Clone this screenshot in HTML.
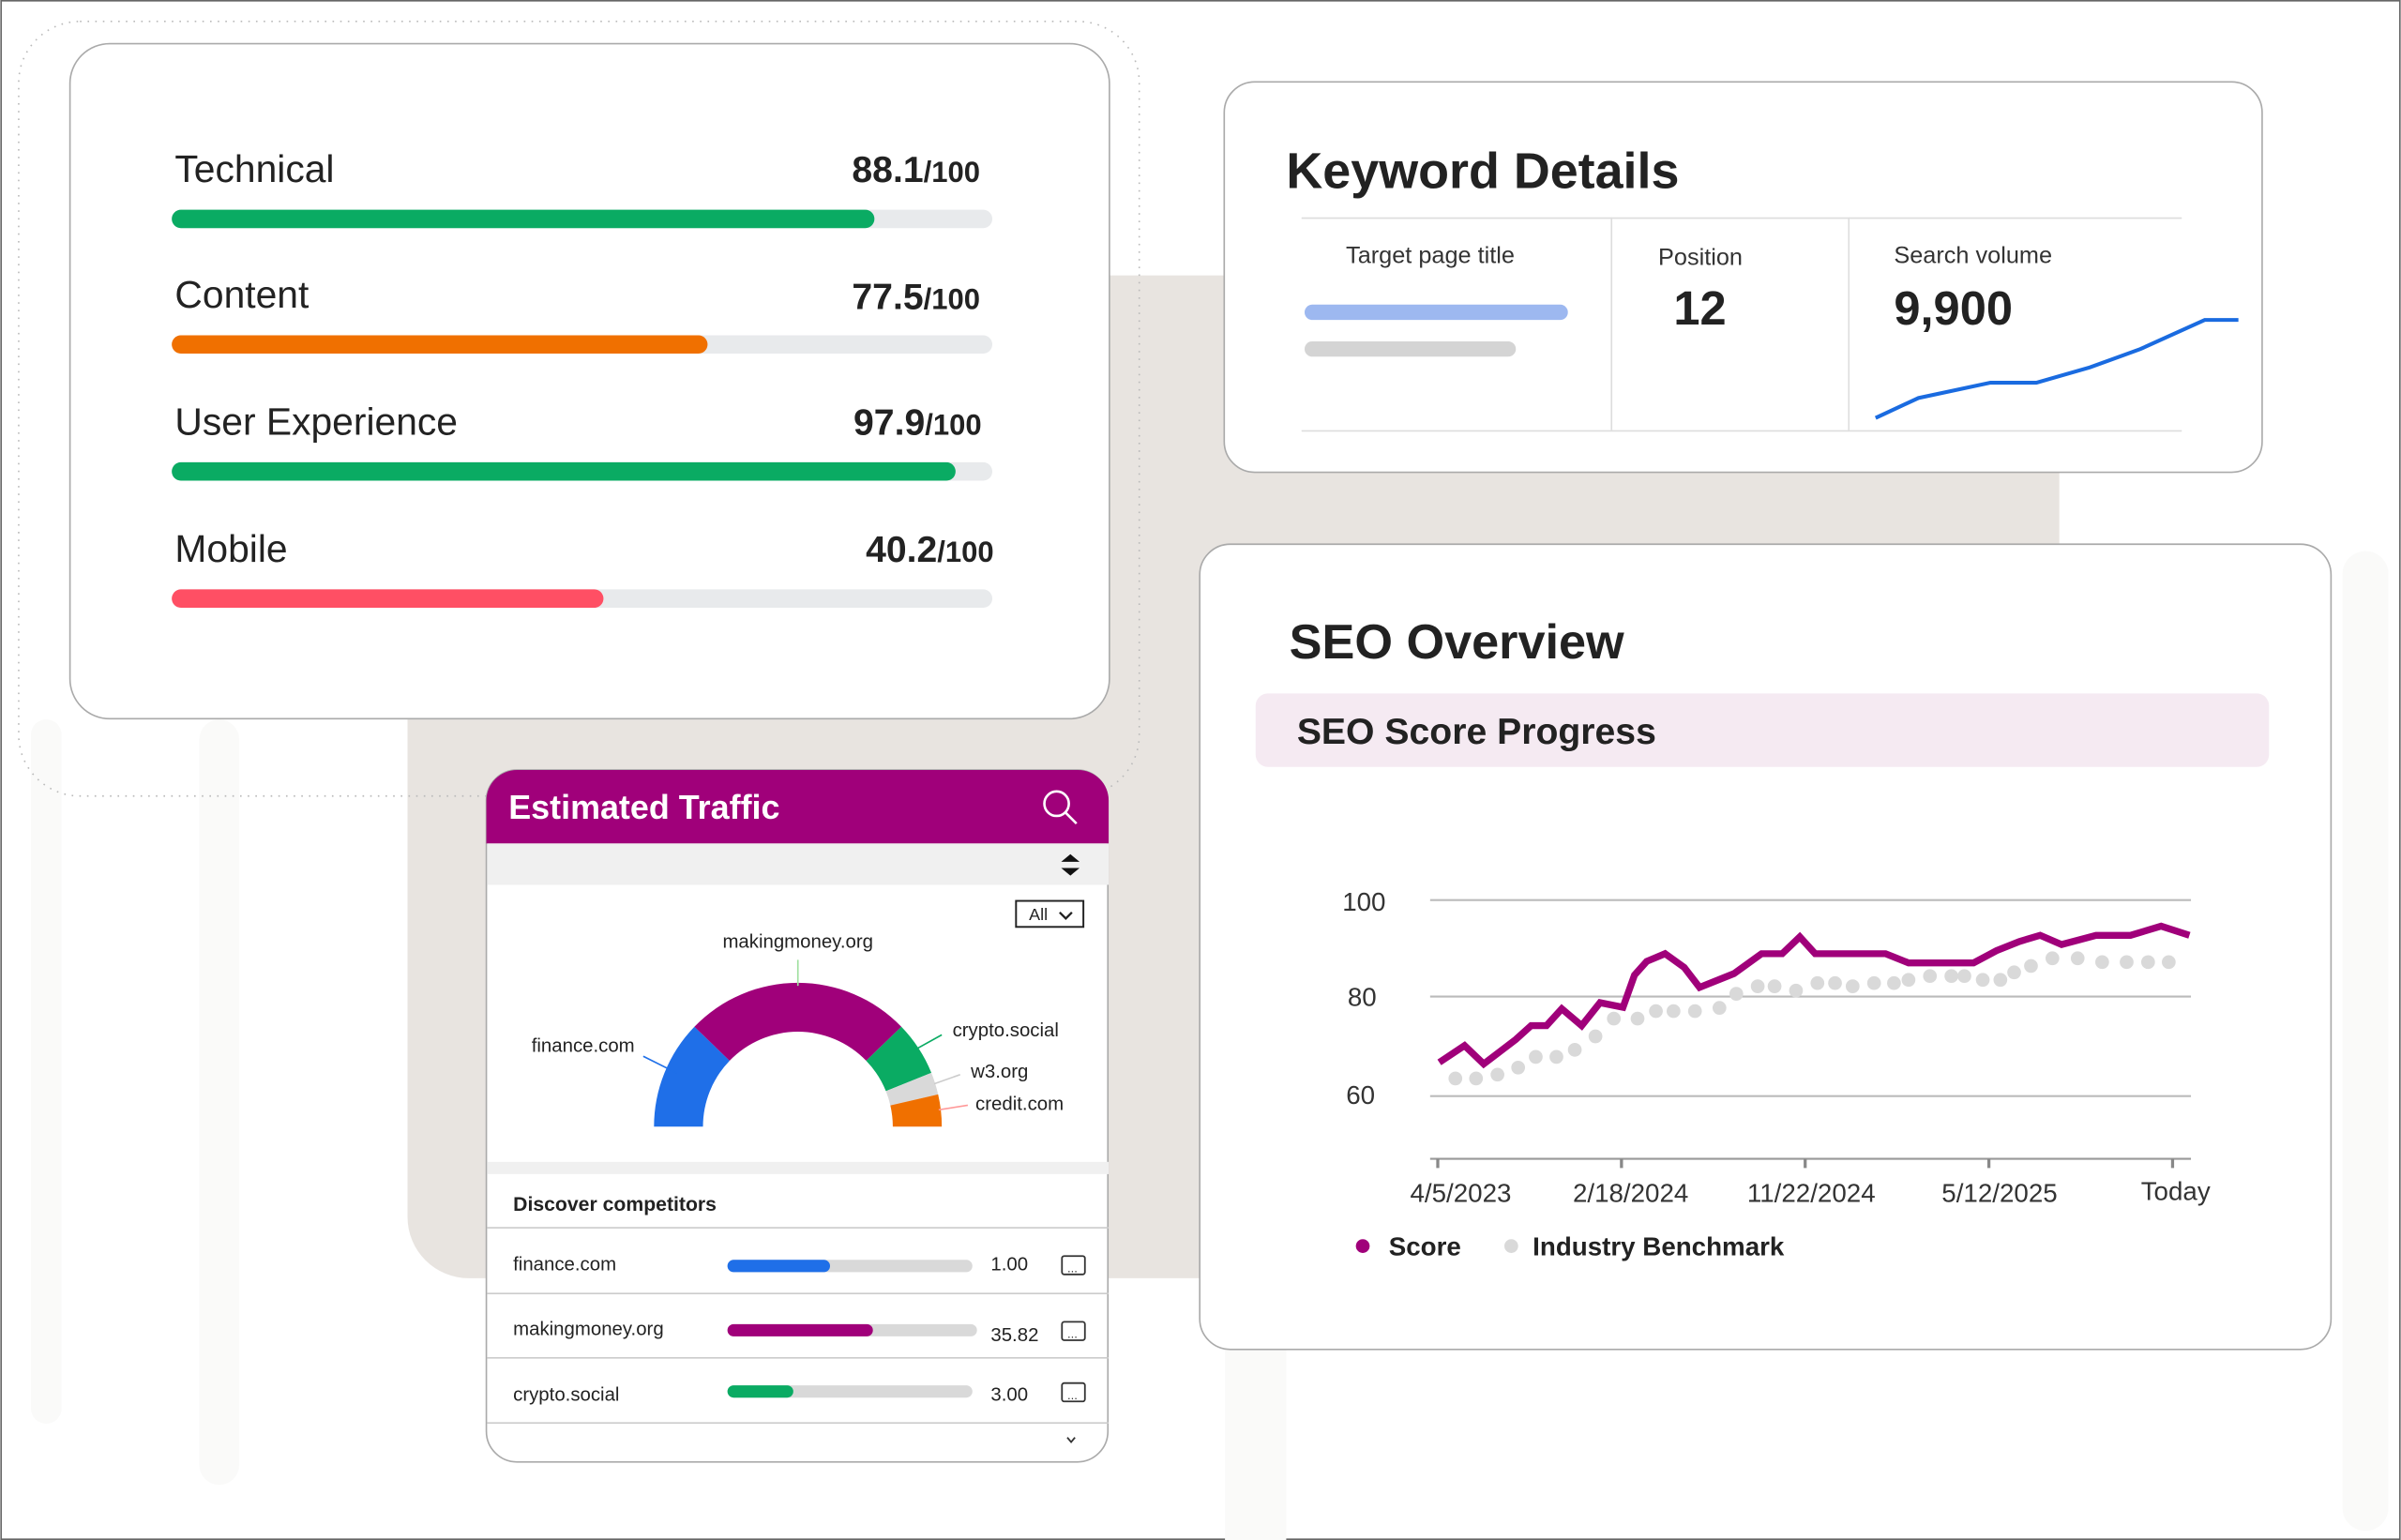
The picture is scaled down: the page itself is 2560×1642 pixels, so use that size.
<!DOCTYPE html>
<html><head><meta charset="utf-8"><style>
html,body{margin:0;padding:0;background:#fff;}
svg{display:block;font-family:"Liberation Sans",sans-serif;}
</style></head><body>
<svg width="2560" height="1642" viewBox="0 0 1568 1006" xmlns="http://www.w3.org/2000/svg">
<rect x="0" y="0" width="1568" height="1006" fill="#fff"/>
<rect x="0.5" y="0.5" width="1567" height="1005" fill="none" stroke="#666" stroke-width="1"/>
<!-- faint streaks -->
<g fill="#fafaf9">
<rect x="20" y="470" width="20" height="460" rx="10"/>
<rect x="130" y="470" width="26" height="500" rx="13"/>
<rect x="800" y="850" width="40" height="156"/>
<rect x="1530" y="360" width="30" height="640" rx="15"/>
</g>
<!-- beige backdrop -->
<rect x="266" y="180" width="1079" height="655" rx="40" fill="#e8e4e0"/>
<rect x="266" y="180" width="1079" height="40" fill="#e8e4e0"/>
<!-- dotted outline -->
<rect x="12" y="14" width="732" height="506" rx="40" fill="none" stroke="#bbb" stroke-width="1" stroke-dasharray="1 4"/>

<!-- Left score card -->
<rect x="45.5" y="28.5" width="679" height="441" rx="26" fill="#fff" stroke="#aaa"/>
<g font-size="25" fill="#222">
<text x="114" y="119">Technical</text>
<text x="114" y="201">Content</text>
<text x="114" y="284">User Experience</text>
<text x="114" y="367">Mobile</text>
</g>
<g font-weight="bold" fill="#222" text-anchor="end">
<text x="640" y="119" font-size="24">88.1<tspan font-size="19">/100</tspan></text>
<text x="640" y="202" font-size="24">77.5<tspan font-size="19">/100</tspan></text>
<text x="641" y="284" font-size="24">97.9<tspan font-size="19">/100</tspan></text>
<text x="649" y="367" font-size="24">40.2<tspan font-size="19">/100</tspan></text>
</g>
<g fill="#e8eaec">
<rect x="112" y="137" width="536" height="12" rx="6"/>
<rect x="112" y="219" width="536" height="12" rx="6"/>
<rect x="112" y="302" width="536" height="12" rx="6"/>
<rect x="112" y="385" width="536" height="12" rx="6"/>
</g>
<rect x="112" y="137" width="459" height="12" rx="6" fill="#0aab63"/>
<rect x="112" y="219" width="350" height="12" rx="6" fill="#f07000"/>
<rect x="112" y="302" width="512" height="12" rx="6" fill="#0aab63"/>
<rect x="112" y="385" width="282" height="12" rx="6" fill="#ff4f64"/>

<!-- Keyword Details card -->
<rect x="799.5" y="53.5" width="678" height="255" rx="20" fill="#fff" stroke="#aaa"/>
<text x="840" y="123" font-size="33" font-weight="bold" fill="#222">Keyword Details</text>
<line x1="850" y1="142.5" x2="1425" y2="142.5" stroke="#ddd"/>
<line x1="850" y1="281.5" x2="1425" y2="281.5" stroke="#ddd"/>
<line x1="1052.5" y1="142" x2="1052.5" y2="281" stroke="#ddd"/>
<line x1="1207.5" y1="142" x2="1207.5" y2="281" stroke="#ddd"/>
<g font-size="15.5" fill="#333">
<text x="879" y="172">Target page title</text>
<text x="1083" y="173">Position</text>
<text x="1237" y="172">Search volume</text>
</g>
<rect x="852" y="199" width="172" height="10" rx="5" fill="#9db8f0"/>
<rect x="852" y="223" width="138" height="10" rx="5" fill="#d4d4d4"/>
<text x="1093" y="212" font-size="31" font-weight="bold" fill="#222">12</text>
<text x="1237" y="212" font-size="31" font-weight="bold" fill="#222">9,900</text>
<polyline points="1225,273 1253,260 1300,250 1330,250 1365,240 1398,228 1440,209 1462,209" fill="none" stroke="#1a6be0" stroke-width="2.5"/>

<!-- SEO Overview card -->
<rect x="783.5" y="355.5" width="739" height="526" rx="20" fill="#fff" stroke="#aaa"/>
<text x="842" y="430" font-size="32" font-weight="bold" fill="#222">SEO Overview</text>
<rect x="820" y="453" width="662" height="48" rx="8" fill="#f5eaf2"/>
<text x="847" y="486" font-size="24" font-weight="bold" fill="#222">SEO Score Progress</text>
<g stroke="#bbb" stroke-width="1.3">
<line x1="934" y1="588" x2="1431" y2="588"/>
<line x1="934" y1="651" x2="1431" y2="651"/>
<line x1="934" y1="716" x2="1431" y2="716"/>
<line x1="934" y1="757" x2="1431" y2="757" stroke="#999"/>
</g>
<g stroke="#888" stroke-width="2">
<line x1="939" y1="757" x2="939" y2="763"/><line x1="1059" y1="757" x2="1059" y2="763"/><line x1="1179" y1="757" x2="1179" y2="763"/><line x1="1299" y1="757" x2="1299" y2="763"/><line x1="1419" y1="757" x2="1419" y2="763"/>
</g>
<g font-size="17" fill="#333" text-anchor="end">
<text x="905" y="595">100</text><text x="899" y="657">80</text><text x="898" y="721">60</text>
</g>
<g font-size="17" fill="#333" text-anchor="middle">
<text x="954" y="785">4/5/2023</text><text x="1065" y="785">2/18/2024</text><text x="1183" y="785">11/22/2024</text><text x="1306" y="785">5/12/2025</text><text x="1421" y="784">Today</text>
</g>
<g fill="#d9d9d9">
<circle cx="950.5" cy="704.5" r="4.5"/><circle cx="964" cy="704.5" r="4.5"/><circle cx="978" cy="702" r="4.5"/><circle cx="991.5" cy="697.4" r="4.5"/><circle cx="1003" cy="690.4" r="4.5"/><circle cx="1016.5" cy="690.4" r="4.5"/><circle cx="1028.5" cy="685.8" r="4.5"/><circle cx="1042" cy="677" r="4.5"/><circle cx="1054" cy="665.4" r="4.5"/><circle cx="1069.5" cy="665.4" r="4.5"/><circle cx="1081.5" cy="660.5" r="4.5"/><circle cx="1093" cy="660.5" r="4.5"/><circle cx="1107" cy="660.5" r="4.5"/><circle cx="1123" cy="658.4" r="4.5"/><circle cx="1134" cy="649.2" r="4.5"/><circle cx="1148" cy="644.3" r="4.5"/><circle cx="1159" cy="644.3" r="4.5"/><circle cx="1173" cy="647.1" r="4.5"/><circle cx="1187" cy="642.2" r="4.5"/><circle cx="1198.5" cy="642.2" r="4.5"/><circle cx="1210" cy="644.3" r="4.5"/><circle cx="1224" cy="642.2" r="4.5"/><circle cx="1237" cy="642.2" r="4.5"/><circle cx="1246.5" cy="640.1" r="4.5"/><circle cx="1260.5" cy="637.6" r="4.5"/><circle cx="1274.5" cy="637.6" r="4.5"/><circle cx="1283" cy="637.6" r="4.5"/><circle cx="1295" cy="640.1" r="4.5"/><circle cx="1306.5" cy="640.1" r="4.5"/><circle cx="1315.5" cy="635.2" r="4.5"/><circle cx="1326.5" cy="631" r="4.5"/><circle cx="1340.5" cy="626" r="4.5"/><circle cx="1357" cy="626" r="4.5"/><circle cx="1373" cy="628.5" r="4.5"/><circle cx="1389" cy="628.5" r="4.5"/><circle cx="1403" cy="628.5" r="4.5"/><circle cx="1416.5" cy="628.5" r="4.5"/>
</g>
<polyline points="940,694 956.5,683 969,695 990,679 1000,670 1010,670 1020,659 1033,670 1045,655 1060,658 1067.5,637 1075.5,628 1087.5,623 1100,632 1110,645 1132.5,636 1150.5,623 1164,623 1175.5,612 1185.5,623 1231.5,623 1246.5,629 1289,629 1304,621 1319,615 1332.5,611 1346.5,617 1369,611 1391.5,611 1411.5,605 1430,611" fill="none" stroke="#a0007a" stroke-width="4.5" stroke-linejoin="miter"/>
<circle cx="890" cy="814" r="4.5" fill="#a0007a"/>
<text x="907" y="820" font-size="17" font-weight="bold" fill="#222">Score</text>
<circle cx="987" cy="814" r="4.5" fill="#d9d9d9"/>
<text x="1001" y="820" font-size="17" font-weight="bold" fill="#222">Industry Benchmark</text>

<!-- Estimated Traffic card -->
<rect x="317.5" y="503" width="406" height="452" rx="20" fill="#fff" stroke="#aaa"/>
<path d="M317.5 551 V523 a20 20 0 0 1 20 -20 H704 a20 20 0 0 1 20 20 V551 Z" fill="#a0007a"/>
<text x="332" y="535" font-size="22" font-weight="bold" fill="#fff">Estimated Traffic</text>
<circle cx="690" cy="525" r="8" fill="none" stroke="#fff" stroke-width="1.6"/>
<line x1="696" y1="531" x2="703" y2="538" stroke="#fff" stroke-width="1.6"/>
<rect x="318" y="551" width="406" height="27" fill="#f0f0f0"/>
<path d="M693 563 L699 558 L705 563 Z M693 567 L699 572 L705 567 Z" fill="#111"/>
<rect x="318" y="759" width="406" height="8" fill="#f0f0f0"/>
<rect x="663.5" y="588.5" width="44" height="17" fill="#fff" stroke="#222" stroke-width="1.2"/>
<text x="672" y="601" font-size="11" fill="#222">All</text>
<polyline points="692,596 696,600 700,596" fill="none" stroke="#222" stroke-width="1.4"/>
<path d="M427,736 A94 94 0 0 1 453.4,670.7 L476.4,692.9 A62 62 0 0 0 459,736 Z" fill="#1f6fe8"/>
<path d="M453.4,670.7 A94 94 0 0 1 588.6,670.7 L565.6,692.9 A62 62 0 0 0 476.4,692.9 Z" fill="#a0007a"/>
<path d="M588.6,670.7 A94 94 0 0 1 608.2,700.8 L578.5,712.8 A62 62 0 0 0 565.6,692.9 Z" fill="#0aab63"/>
<path d="M608.2,700.8 A94 94 0 0 1 612.6,714.9 L581.4,722.1 A62 62 0 0 0 578.5,712.8 Z" fill="#d9d9d9"/>
<path d="M612.6,714.9 A94 94 0 0 1 615,736 L583,736 A62 62 0 0 0 581.4,722.1 Z" fill="#f07000"/>
<g stroke-width="1">
<line x1="521" y1="627" x2="521" y2="644" stroke="#9fe09f"/>
<line x1="420" y1="690" x2="442" y2="701" stroke="#1f6fe8"/>
<line x1="597" y1="686" x2="615" y2="676" stroke="#0aab63"/>
<line x1="610" y1="708" x2="627" y2="702" stroke="#ccc"/>
<line x1="613" y1="725" x2="632" y2="722" stroke="#f99"/>
</g>
<g font-size="12.5" fill="#222">
<text x="521" y="619" text-anchor="middle">makingmoney.org</text>
<text x="347" y="687">finance.com</text>
<text x="622" y="677">crypto.social</text>
<text x="634" y="704">w3.org</text>
<text x="637" y="725">credit.com</text>
</g>
<text x="335" y="791" font-size="13" font-weight="bold" fill="#222">Discover competitors</text>
<g stroke="#ccc" stroke-width="1">
<line x1="318" y1="802" x2="724" y2="802"/>
<line x1="318" y1="845" x2="724" y2="845"/>
<line x1="318" y1="887" x2="724" y2="887"/>
<line x1="318" y1="929.5" x2="724" y2="929.5"/>
</g>
<g font-size="12.5" fill="#222">
<text x="335" y="830">finance.com</text>
<text x="335" y="872">makingmoney.org</text>
<text x="335" y="915">crypto.social</text>
<text x="647" y="830">1.00</text>
<text x="647" y="876">35.82</text>
<text x="647" y="915">3.00</text>
</g>
<rect x="475" y="823" width="160" height="8" rx="4" fill="#d9d9d9"/>
<rect x="475" y="823" width="67" height="8" rx="4" fill="#1f6fe8"/>
<rect x="475" y="865" width="163" height="8" rx="4" fill="#d9d9d9"/>
<rect x="475" y="865" width="95" height="8" rx="4" fill="#a0007a"/>
<rect x="475" y="905" width="160" height="8" rx="4" fill="#d9d9d9"/>
<rect x="475" y="905" width="43" height="8" rx="4" fill="#0aab63"/>
<g fill="none" stroke="#333" stroke-width="1.1">
<rect x="693.5" y="820.5" width="15" height="12" rx="1.5"/>
<rect x="693.5" y="863.5" width="15" height="12" rx="1.5"/>
<rect x="693.5" y="903.5" width="15" height="12" rx="1.5"/>
<polyline points="697,939 699.5,942 702,939"/>
</g>
<g fill="#333" font-size="8"><text x="697" y="831">...</text><text x="697" y="874">...</text><text x="697" y="914">...</text></g>
</svg>
</body></html>
